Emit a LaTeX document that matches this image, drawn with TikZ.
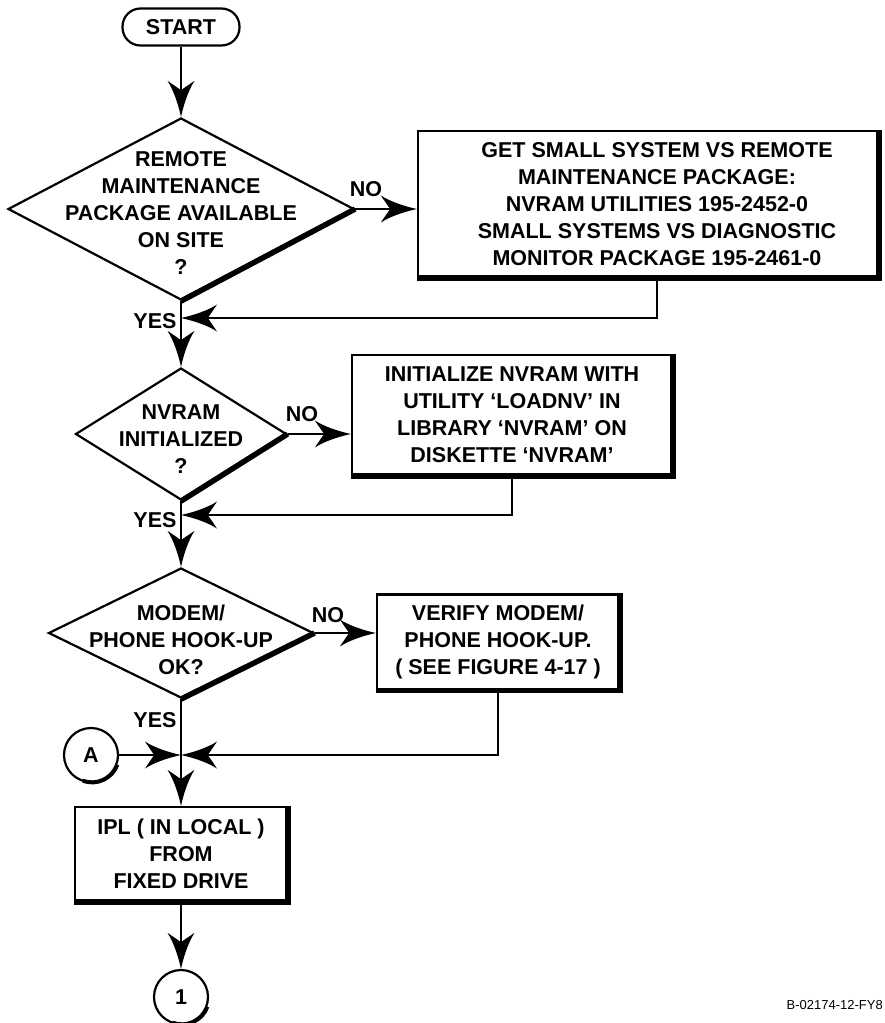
\documentclass[tikz,border=0pt]{standalone}
\usepackage{fontspec}
\setmainfont{Liberation Sans}
\usetikzlibrary{shapes.geometric,arrows.meta,positioning,calc}

% barbed arrow head with hollow sides
\pgfdeclarearrow{
  name = Barb,
  parameters = {\the\pgfarrowlength,\the\pgfarrowwidth},
  setup code = {
    \pgfarrowssettipend{0pt}
    \pgfarrowssetbackend{-\pgfarrowlength}
    \pgfarrowssetlineend{-.5\pgfarrowlength}
    \pgfarrowssavethe\pgfarrowlength
    \pgfarrowssavethe\pgfarrowwidth
  },
  drawing code = {
    \pgfpathmoveto{\pgfpointorigin}
    \pgfpathcurveto{\pgfpoint{-.35\pgfarrowlength}{.1\pgfarrowwidth}}
                   {\pgfpoint{-.75\pgfarrowlength}{.28\pgfarrowwidth}}
                   {\pgfpoint{-\pgfarrowlength}{.5\pgfarrowwidth}}
    \pgfpathcurveto{\pgfpoint{-.9\pgfarrowlength}{.3\pgfarrowwidth}}
                   {\pgfpoint{-.8\pgfarrowlength}{.1\pgfarrowwidth}}
                   {\pgfpoint{-.74\pgfarrowlength}{0pt}}
    \pgfpathcurveto{\pgfpoint{-.8\pgfarrowlength}{-.1\pgfarrowwidth}}
                   {\pgfpoint{-.9\pgfarrowlength}{-.3\pgfarrowwidth}}
                   {\pgfpoint{-\pgfarrowlength}{-.5\pgfarrowwidth}}
    \pgfpathcurveto{\pgfpoint{-.75\pgfarrowlength}{-.28\pgfarrowwidth}}
                   {\pgfpoint{-.35\pgfarrowlength}{-.1\pgfarrowwidth}}
                   {\pgfpointorigin}
    \pgfpathclose
    \pgfusepathqfill
  },
  defaults = {length=36pt, width=27pt}
}

\tikzset{
  flow/.style={line width=2.2pt},
  shade/.style={line width=5.5pt},
  arr/.style={flow, -{Barb[length=36pt,width=27pt]}},
  decision/.style={diamond, draw, flow, inner sep=0pt},
  process/.style={rectangle, draw, flow, align=center, inner sep=0pt},
  conn/.style={circle, draw, flow, minimum size=54pt, inner sep=0pt},
  tag/.style={inner sep=0pt}
}

\begin{document}
\begin{tikzpicture}[x=1pt, y=-1pt, every node/.style={font=\fontsize{21.5}{27}\selectfont\bfseries}]
    \useasboundingbox (0,0) rectangle (885,1023);

    % terminal and connectors
    \node[draw, flow, rounded corners=18pt, minimum width=117pt, minimum height=37pt] at (181,27) (start) {START};
    \node[conn] at (91,755) (ca) {A};
    \node[conn] at (181,997) (c1) {1};

    % decisions
    \node[decision, minimum width=346pt, minimum height=182pt,
          label={[align=center, yshift=-4pt]center:REMOTE\\MAINTENANCE\\PACKAGE AVAILABLE\\ON SITE\\?}] at (181,209) (d1) {};
    \node[decision, minimum width=211pt, minimum height=132pt,
          label={[align=center, yshift=-5pt]center:NVRAM\\INITIALIZED\\?}] at (181,434) (d2) {};
    \node[decision, minimum width=265pt, minimum height=130pt,
          label={[align=center, yshift=-7pt]center:MODEM/\\PHONE HOOK-UP\\OK?}] at (181,633) (d3) {};

    % processes
    \node[process, minimum width=460pt, minimum height=146pt] at (648,204) (b1)
        {\hspace*{18pt}GET SMALL SYSTEM VS REMOTE\\\hspace*{18pt}MAINTENANCE PACKAGE:\\\hspace*{18pt}NVRAM UTILITIES 195-2452-0\\\hspace*{18pt}SMALL SYSTEMS VS DIAGNOSTIC\\\hspace*{18pt}MONITOR PACKAGE 195-2461-0};
    \node[process, minimum width=320pt, minimum height=120pt] at (512,415) (b2)
        {INITIALIZE NVRAM WITH\\UTILITY `LOADNV' IN\\LIBRARY `NVRAM' ON\\DISKETTE `NVRAM'};
    \node[process, minimum width=242pt, minimum height=95pt] at (498,642) (b3)
        {VERIFY MODEM/\\PHONE HOOK-UP.\\( SEE FIGURE 4-17 )};
    \node[process, minimum width=212pt, minimum height=94pt] at (181,854) (b4)
        {IPL ( IN LOCAL )\\FROM\\FIXED DRIVE};

    % shadow edges
    \foreach \n in {b1,b2,b3,b4}
        \draw[shade] (\n.south west) -- (\n.south east) -- (\n.north east);
    \foreach \n in {d1,d2,d3}
        \draw[shade] (\n.east) -- (\n.south);
    \foreach \n in {ca,c1}
        \draw[line width=4pt] (\n.-20) arc[start angle=-20, end angle=-110, radius=27pt];

    % labels
    \foreach \n/\pos in {n1/{(366,189)}, n2/{(302,414)}, n3/{(328,615)}}
        \node[tag] at \pos (\n) {NO};
    \foreach \n/\pos in {y1/{(155,321)}, y2/{(155,520)}, y3/{(155,720)}}
        \node[tag] at \pos (\n) {YES};
    \node[tag, font=\fontsize{13}{15}\selectfont, anchor=east] at (883,1005) (code) {B-02174-12-FY8};

    % return points
    \coordinate (r1) at (657,318);
    \coordinate (r2) at (512,515);
    \coordinate (r3) at (498,755);
    \coordinate (j) at (181,755);

    % connections
    \draw[arr] (start) -- (d1.north);
    \draw[arr] (d1.south) -- (d2.north);
    \draw[arr] (d2.south) -- (d3.north);
    \draw[flow] (d3.south) -- (j);
    \draw[arr] (j) -- (b4.north);
    \draw[arr] (b4) -- (c1);
    \draw[arr] (ca) -- (j);
    \draw[arr] (d1.east) -- (d1.east -| b1.west);
    \draw[arr] (d2.east) -- (d2.east -| b2.west);
    \draw[arr] (d3.east) -- (d3.east -| b3.west);
    \draw[arr] (r1 |- b1.south) -- (r1) -- (r1 -| d1.south);
    \draw[arr] (r2 |- b2.south) -- (r2) -- (r2 -| d2.south);
    \draw[arr] (r3 |- b3.south) -- (r3) -- (j);
\end{tikzpicture}
\end{document}
